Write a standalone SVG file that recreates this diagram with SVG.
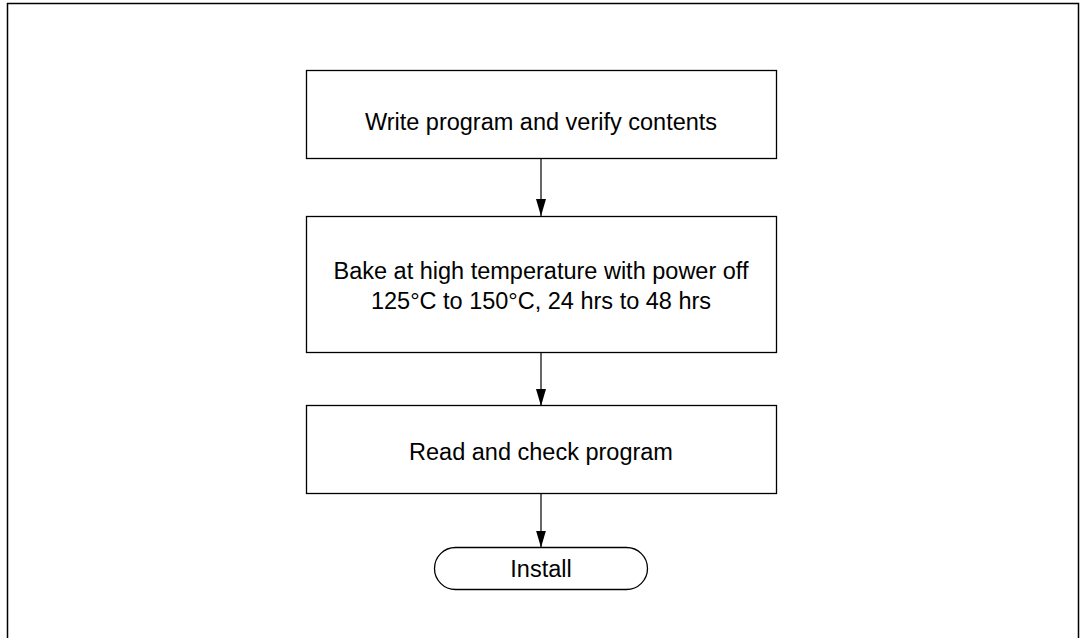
<svg xmlns="http://www.w3.org/2000/svg" width="1082" height="638" viewBox="0 0 1082 638">
<defs>
<marker id="arr" markerWidth="17" markerHeight="10" refX="10" refY="5" orient="auto" markerUnits="userSpaceOnUse" viewBox="0 0 10 10" preserveAspectRatio="none">
<path d="M0,0 L10,5 L0,10 Z" fill="#000"/>
</marker>
<style>
.box{fill:#fff;stroke:#000;stroke-width:1.3}
.t{font-family:"Liberation Sans",Arial,sans-serif;font-size:23.5px;fill:#000;text-anchor:middle}
.c{stroke:#000;stroke-width:1.2;fill:none;marker-end:url(#arr)}
</style>
</defs>
<rect width="1082" height="638" fill="#fff"/>
<path d="M7.5,640 V3.5 H1078.5 V640" fill="none" stroke="#000" stroke-width="1.5"/>
<g id="connectors">
<line class="c" x1="541" y1="158" x2="541" y2="216"/>
<line class="c" x1="541" y1="352" x2="541" y2="406"/>
<line class="c" x1="541" y1="493" x2="541" y2="547.5"/>
</g>
<g id="n1">
<rect class="box" x="306.5" y="70.5" width="470" height="88"/>
<text class="t" x="541" y="129.5">Write program and verify contents</text>
</g>
<g id="n2">
<rect class="box" x="306.5" y="216.5" width="470" height="136"/>
<text class="t" x="541" y="278.5">Bake at high temperature with power off</text>
<text class="t" x="541" y="308.5">125°C to 150°C, 24 hrs to 48 hrs</text>
</g>
<g id="n3">
<rect class="box" x="306.5" y="405.5" width="470" height="88"/>
<text class="t" x="541" y="460">Read and check program</text>
</g>
<g id="n4">
<rect class="box" x="434.5" y="547.5" width="213" height="42" rx="21" ry="21"/>
<text class="t" x="541" y="576.5">Install</text>
</g>
</svg>
